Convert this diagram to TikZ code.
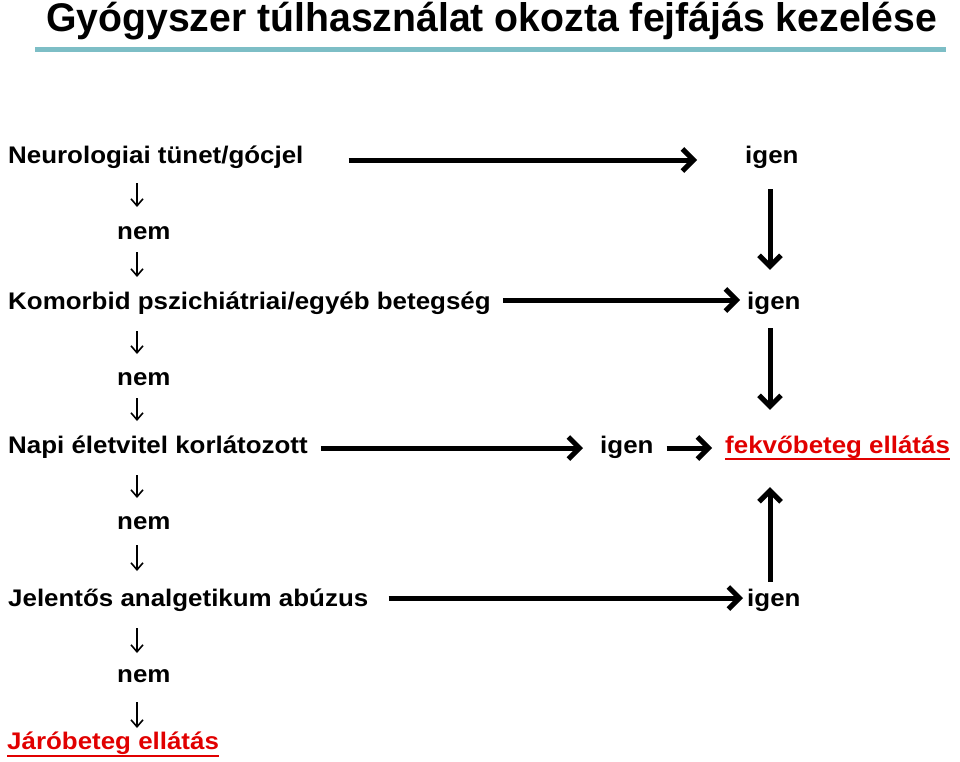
\documentclass[tikz,border=0pt]{standalone}
\usepackage{fontspec}
\setmainfont{Liberation Sans}
\usetikzlibrary{arrows.meta}
\definecolor{tealline}{RGB}{125,190,198}
\definecolor{hred}{RGB}{225,0,0}
\newcommand\hsc[1]{\scalebox{1.08}[1]{#1}}
\begin{document}
\begin{tikzpicture}[x=1pt,y=-1pt,
  txt/.style={font=\fontsize{24}{27}\selectfont\bfseries, inner sep=0pt,
              text height=14pt, text depth=8pt, anchor=base west},
  redtxt/.style={txt, text=hred},
  big/.style={line width=5pt, -{Straight Barb[length=11pt,width=22pt]}},
  small/.style={line width=1.6pt, -{Straight Barb[length=7pt,width=12pt]}},
  ul/.style={hred, line width=2.6pt}]
\path[use as bounding box] (0,0) rectangle (960,761);

% title
\node[anchor=base west, inner sep=0pt, font=\fontsize{40}{44}\selectfont\bfseries]
  (title) at (46,31) {\scalebox{0.98}[1]{Gyógyszer túlhasználat okozta fejfájás kezelése}};
\draw[tealline, line width=5pt] (35,49) -- (946,49);

% left column
\node[txt] (neuro) at (8,163) {\hsc{Neurologiai tünet/gócjel}};
\node[txt] (nem1)  at (117,239) {\hsc{nem}};
\node[txt] (komor) at (8,309) {\hsc{Komorbid pszichiátriai/egyéb betegség}};
\node[txt] (nem2)  at (117,385) {\hsc{nem}};
\node[txt] (napi)  at (8,453) {\hsc{Napi életvitel korlátozott}};
\node[txt] (nem3)  at (117,529) {\hsc{nem}};
\node[txt] (jelen) at (8,606) {\hsc{Jelentős analgetikum abúzus}};
\node[txt] (nem4)  at (117,682) {\hsc{nem}};
\node[redtxt] (jaro) at (7,749) {\hsc{Járóbeteg ellátás}};
\coordinate (sx) at (137,0);

% right column
\node[txt] (igen1) at (745,163) {\hsc{igen}};
\node[txt] (igen2) at (747,309) {\hsc{igen}};
\node[txt] (igen3) at (600,453) {\hsc{igen}};
\node[redtxt] (fekvo) at (725,453) {\hsc{fekvőbeteg ellátás}};
\node[txt] (igen4) at (747,606) {\hsc{igen}};
\coordinate (vx) at (770,0);

% underlines
\draw[ul] ([yshift=-6pt]fekvo.base west) -- ([yshift=-6pt]fekvo.base east);
\draw[ul] ([yshift=-7pt]jaro.base west) -- ([yshift=-7pt]jaro.base east);

% small "nem" arrows
\draw[small] ([yshift=-20pt]sx |- neuro.base) -- ([yshift=32pt]sx |- nem1.base);
\draw[small] ([yshift=-13pt]sx |- nem1.base) -- ([yshift=32pt]sx |- komor.base);
\draw[small] ([yshift=-22pt]sx |- komor.base) -- ([yshift=31pt]sx |- nem2.base);
\draw[small] ([yshift=-13pt]sx |- nem2.base) -- ([yshift=32pt]sx |- napi.base);
\draw[small] ([yshift=-22pt]sx |- napi.base) -- ([yshift=31pt]sx |- nem3.base);
\draw[small] ([yshift=-16pt]sx |- nem3.base) -- ([yshift=35pt]sx |- jelen.base);
\draw[small] ([yshift=-22pt]sx |- jelen.base) -- ([yshift=29pt]sx |- nem4.base);
\draw[small] ([yshift=-20pt]sx |- nem4.base) -- ([yshift=21pt]sx |- jaro.base);

% big horizontal arrows
\draw[big, shorten <=45pt, shorten >=48pt] (neuro.east) -- (igen1.west);
\draw[big, shorten <=12pt, shorten >=7pt] ([yshift=6pt]komor.east) -- ([yshift=6pt]igen2.west);
\draw[big, shorten <=13pt, shorten >=17pt] ([yshift=2pt]napi.east) -- ([yshift=2pt]igen3.west);
\draw[big, shorten <=13pt, shorten >=13pt] ([yshift=2pt]igen3.east) -- ([yshift=2pt]fekvo.west);
\draw[big, shorten <=20pt, shorten >=4pt] ([yshift=5pt]jelen.east) -- ([yshift=5pt]igen4.west);

% big vertical arrows
\draw[big, shorten <=18pt, shorten >=25pt] (vx |- igen1.south) -- (vx |- igen2.north);
\draw[big, shorten <=11pt, shorten >=29pt] (vx |- igen2.south) -- (vx |- fekvo.north);
\draw[big, shorten <=10pt, shorten >=26pt] (vx |- igen4.north) -- (vx |- fekvo.south);
\end{tikzpicture}
\end{document}
